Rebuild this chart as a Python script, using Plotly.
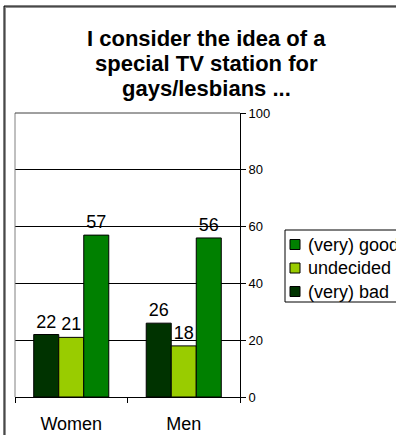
import plotly.graph_objects as go

categories = ["Women", "Men"]
series_names = ["(very) bad", "undecided", "(very) good"]
very_bad = [22, 26]
undecided = [21, 18]
very_good = [57, 56]
colors = ["#003300", "#99CC00", "#008000"]
title_lines = ["I consider the idea of a", "special TV station for", "gays/lesbians ..."]

font_family = "Liberation Sans, Arial, sans-serif"

fig = go.Figure()
for name, vals, col in zip(series_names, [very_bad, undecided, very_good], colors):
    fig.add_trace(go.Bar(
        x=categories, y=vals, name=name,
        marker=dict(color=col, line=dict(color="black", width=1)),
        text=vals, texttemplate="%{text}", textposition="outside",
        textfont=dict(size=18, color="black", family=font_family),
        cliponaxis=False, showlegend=False,
    ))

# plot area spans 225 x 284 px; helpers convert pixel offsets to paper units
PW, PH = 225.0, 284.0


def px_x(px):
    return (px - 15) / PW


def px_y(py):
    return (397 - py) / PH


shapes = [
    # left and top edges of the plot area
    dict(type="line", xref="paper", yref="paper", x0=0, x1=0, y0=0, y1=1,
         line=dict(color="#808080", width=1)),
    dict(type="line", xref="paper", yref="paper", x0=0, x1=1, y0=1, y1=1,
         line=dict(color="#404040", width=1)),
    # outer chart frame with soft shadow
    dict(type="rect", xref="paper", yref="paper",
         x0=px_x(5), x1=2, y0=-0.2, y1=px_y(7),
         line=dict(color="#909090", width=2), layer="below"),
    dict(type="rect", xref="paper", yref="paper",
         x0=px_x(4), x1=2, y0=-0.2, y1=px_y(6),
         line=dict(color="black", width=1), layer="below"),
    # legend box
    dict(type="rect", xref="paper", yref="paper",
         x0=px_x(285), x1=2, y0=px_y(302), y1=px_y(230),
         line=dict(color="black", width=1), fillcolor="white"),
]

annotations = []
# title, one line at a time for tight line spacing
for i, line in enumerate(title_lines):
    annotations.append(dict(
        text=line, xref="paper", yref="paper",
        x=px_x(206), y=px_y(38 + 25 * i), xanchor="center", yanchor="middle",
        showarrow=False,
        font=dict(size=22, family=font_family, color="black", weight="bold")))

# legend entries, listed top to bottom in reverse series order
legend_rows = [244.5, 268, 291.5]
for row_y, name, col in zip(legend_rows, series_names[::-1], colors[::-1]):
    shapes.append(dict(type="rect", xref="paper", yref="paper",
                       x0=px_x(290), x1=px_x(300),
                       y0=px_y(row_y + 5), y1=px_y(row_y - 5),
                       fillcolor=col, line=dict(color="black", width=1)))
    annotations.append(dict(text=name, xref="paper", yref="paper",
                            x=px_x(306), y=px_y(row_y), xanchor="left", yanchor="middle",
                            showarrow=False,
                            font=dict(size=18, family=font_family, color="black")))

fig.update_layout(
    width=396, height=435,
    margin=dict(l=15, r=156, t=113, b=38, autoexpand=False),
    paper_bgcolor="white", plot_bgcolor="white",
    barmode="group", bargap=0.333, bargroupgap=0,
    font=dict(family=font_family, color="black"),
    showlegend=False,
    xaxis=dict(
        showline=True, linecolor="black", linewidth=1,
        ticks="outside", tickson="boundaries", ticklen=5, tickcolor="black",
        tickfont=dict(size=18), ticklabelstandoff=10, showgrid=False,
    ),
    yaxis=dict(
        side="right", range=[0, 100], dtick=20,
        showline=True, linecolor="black", linewidth=1,
        ticks="outside", ticklen=5, tickcolor="black",
        tickfont=dict(size=13),
        showgrid=True, gridcolor="black", gridwidth=1, zeroline=False,
    ),
    annotations=annotations,
    shapes=shapes,
)

fig.write_html("out.html")
